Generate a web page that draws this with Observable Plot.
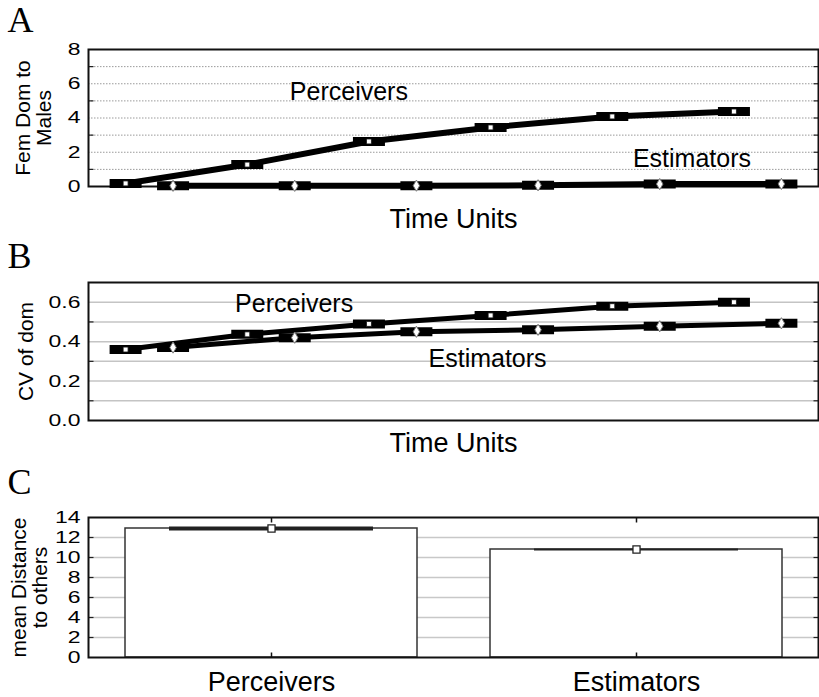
<!DOCTYPE html>
<html>
<head>
<meta charset="utf-8">
<script src="https://cdn.jsdelivr.net/npm/d3@7"></script>
<script src="https://cdn.jsdelivr.net/npm/@observablehq/plot@0.6"></script>
<style>
  body { margin: 0; background: #fff; }
  #chart { width: 819px; }
  #chart svg { display: block; }
</style>
</head>
<body>
<div id="chart"></div>
<script>
// ---- data ----
const timeUnits = [1, 2, 3, 4, 5, 6];
const femDomPerceivers = [0.18, 1.28, 2.63, 3.45, 4.09, 4.38];
const femDomEstimators = [0.04, 0.04, 0.05, 0.07, 0.14, 0.15];
const cvPerceivers = [0.36, 0.437, 0.49, 0.533, 0.58, 0.60];
const cvEstimators = [0.37, 0.42, 0.45, 0.46, 0.478, 0.493];
const groups = ["Perceivers", "Estimators"];
const meanDistance = [12.9, 10.8];
const femDomTicks = [0, 2, 4, 6, 8];
const cvTicks = [0, 0.2, 0.4, 0.6];
const distanceTicks = [0, 2, 4, 6, 8, 10, 12, 14];

// ---- helpers ----
const FONT = "'Liberation Sans', Arial, Helvetica, sans-serif";
const SERIF = "'Liberation Serif', 'Times New Roman', serif";

function seriesRows(perc, est) {
  return [
    ...timeUnits.map((t, i) => ({group: "Perceivers", time: t, value: perc[i]})),
    ...timeUnits.map((t, i) => ({group: "Estimators", time: t, value: est[i]}))
  ];
}
// the two groups sit side by side within each time unit
const dodge = {Perceivers: -0.195, Estimators: 0.195};
const xPos = d => d.time + dodge[d.group];

// custom symbols: the black whisker box and the small inner frame ticks
const boxSymbol = {draw(ctx) { ctx.rect(-16, -4.5, 32, 9); }};
const tickRightward = {draw(ctx) { ctx.moveTo(0, 0); ctx.lineTo(5, 0); }};
const tickLeftward = {draw(ctx) { ctx.moveTo(0, 0); ctx.lineTo(-5, 0); }};
const tickUpward = {draw(ctx) { ctx.moveTo(0, 0); ctx.lineTo(0, -5); }};
const tickDownward = {draw(ctx) { ctx.moveTo(0, 0); ctx.lineTo(0, 5); }};

function widenTickLabels(svg) {
  svg.querySelectorAll('g[aria-label="y-axis tick label"] text').forEach(t => {
    const tr = t.getAttribute("transform") || "";
    t.setAttribute("transform", tr + " scale(1.35,1)");
  });
}

function linePanel(o) {
  const rows = seriesRows(o.perc, o.est);
  const svg = Plot.plot({
    width: 819, height: o.height,
    marginTop: o.marginTop, marginBottom: o.marginBottom, marginLeft: 88, marginRight: 1,
    style: {fontFamily: FONT, background: "white", color: "black"},
    x: {domain: [0.5, 6.5], axis: null},
    y: {domain: o.yDomain},
    marks: [
      Plot.ruleY(o.grid, o.gridStyle),
      Plot.axisY(o.yTicks, {tickSize: 0, tickPadding: 8, fontSize: 17, tickFormat: o.tickFormat, label: null}),
      Plot.dot(o.leftTicks, {y: d => d, frameAnchor: "left", symbol: tickRightward, stroke: "#222", strokeWidth: 1.2, fill: "none"}),
      Plot.dot(o.grid, {y: d => d, frameAnchor: "right", symbol: tickLeftward, stroke: "#222", strokeWidth: 1.2, fill: "none"}),
      Plot.frame({stroke: "#111", strokeWidth: 2}),
      Plot.line(rows, {x: xPos, y: "value", z: "group", stroke: "black", strokeWidth: o.lineWidth}),
      Plot.dot(rows, {x: xPos, y: "value", symbol: boxSymbol, fill: "black", stroke: null}),
      Plot.dot(rows.filter(d => d.group === "Perceivers"), {x: xPos, y: "value", symbol: "square", r: 2.8, fill: "white", stroke: "#111", strokeWidth: 0.8}),
      Plot.dot(rows.filter(d => d.group === "Estimators"), {x: xPos, y: "value", symbol: "diamond", r: 3.4, fill: "white", stroke: "#777", strokeWidth: 1}),
      Plot.text(["Perceivers"], {x: [o.percLabel[0]], y: [o.percLabel[1]], text: d => d, fontSize: 25, lineAnchor: "middle"}),
      Plot.text(["Estimators"], {x: [o.estLabel[0]], y: [o.estLabel[1]], text: d => d, fontSize: 25, lineAnchor: "middle"}),
      Plot.text(["Time Units"], {frameAnchor: "bottom", dy: o.timeDy, fontSize: 27, lineAnchor: "middle"}),
      Plot.text([o.yLabel], {frameAnchor: "left", rotate: -90, dx: o.yLabelDx, fontSize: 21, lineAnchor: "middle", textAnchor: "middle"}),
      Plot.text([o.letter], {frameAnchor: "top-left", dx: -81, dy: o.letterDy, fontSize: 36, fontFamily: SERIF, textAnchor: "start", lineAnchor: "top"})
    ]
  });
  widenTickLabels(svg);
  return svg;
}

const chart = document.getElementById("chart");

// A: female dominance over males
chart.appendChild(linePanel({
  letter: "A", height: 235, marginTop: 49, marginBottom: 49, letterDy: -43,
  perc: femDomPerceivers, est: femDomEstimators,
  yDomain: [0, 8], yTicks: femDomTicks, tickFormat: d3.format("d"),
  grid: [1, 2, 3, 4, 5, 6, 7], leftTicks: [1, 3, 5, 7],
  gridStyle: {stroke: "#9a9a9a", strokeWidth: 1, strokeDasharray: "1.5,1.5"},
  lineWidth: 6,
  percLabel: [2.64, 5.49], estLabel: [5.46, 1.63],
  timeDy: 32.6, yLabel: "Fem Dom to\nMales", yLabelDx: -54.5
}));

// B: coefficient of variation of dominance
chart.appendChild(linePanel({
  letter: "B", height: 225, marginTop: 47, marginBottom: 40, letterDy: -40,
  perc: cvPerceivers, est: cvEstimators,
  yDomain: [0, 0.7], yTicks: cvTicks, tickFormat: d3.format(".1f"),
  grid: [0.1, 0.2, 0.3, 0.4, 0.5, 0.6], leftTicks: [0.1, 0.3, 0.5],
  gridStyle: {stroke: "#c4c4c4", strokeWidth: 1.5},
  lineWidth: 5,
  percLabel: [2.19, 0.592], estLabel: [3.78, 0.313],
  timeDy: 22.4, yLabel: "CV of dom", yLabelDx: -62
}));

// C: mean distance to others per group
const distRows = groups.map((g, i) => ({group: g, mean: meanDistance[i]}));
const svgC = Plot.plot({
  width: 819, height: 237,
  marginTop: 57, marginBottom: 40, marginLeft: 88, marginRight: 1,
  style: {fontFamily: FONT, background: "white", color: "black"},
  x: {domain: groups, paddingInner: 0.2, paddingOuter: 0.1},
  y: {domain: [0, 14]},
  marks: [
    Plot.ruleY([2, 4, 6, 8, 10, 12], {stroke: "#c8c8c8", strokeWidth: 1.5}),
    Plot.axisY(distanceTicks, {tickSize: 0, tickPadding: 8, fontSize: 17, label: null}),
    Plot.axisX({tickSize: 0, tickPadding: 14, fontSize: 27, label: null}),
    Plot.dot([2, 4, 6, 8, 10, 12], {y: d => d, frameAnchor: "left", symbol: tickRightward, stroke: "#222", strokeWidth: 1.2, fill: "none"}),
    Plot.dot([2, 4, 6, 8, 10, 12], {y: d => d, frameAnchor: "right", symbol: tickLeftward, stroke: "#222", strokeWidth: 1.2, fill: "none"}),
    Plot.barY(distRows, {x: "group", y: "mean", fill: "white", stroke: "#333", strokeWidth: 1.5}),
    Plot.tickY(distRows, {x: "group", y: "mean", stroke: "#222", strokeWidth: d => d.group === "Perceivers" ? 4 : 2, insetLeft: 44, insetRight: 44}),
    Plot.dot(distRows, {x: "group", y: "mean", symbol: "square", r: 4, fill: "white", stroke: "#222", strokeWidth: 1.3}),
    Plot.dot(groups, {x: d => d, frameAnchor: "bottom", symbol: tickUpward, stroke: "#111", strokeWidth: 1.5, fill: "none"}),
    Plot.dot(groups, {x: d => d, frameAnchor: "top", symbol: tickDownward, stroke: "#111", strokeWidth: 1.5, fill: "none"}),
    Plot.frame({stroke: "#111", strokeWidth: 2}),
    Plot.text(["mean Distance\nto others"], {frameAnchor: "left", rotate: -90, dx: -58.5, fontSize: 21, lineAnchor: "middle", textAnchor: "middle"}),
    Plot.text(["C"], {frameAnchor: "top-left", dx: -81, dy: -49, fontSize: 36, fontFamily: SERIF, textAnchor: "start", lineAnchor: "top"})
  ]
});
widenTickLabels(svgC);
chart.appendChild(svgC);
</script>
</body>
</html>
